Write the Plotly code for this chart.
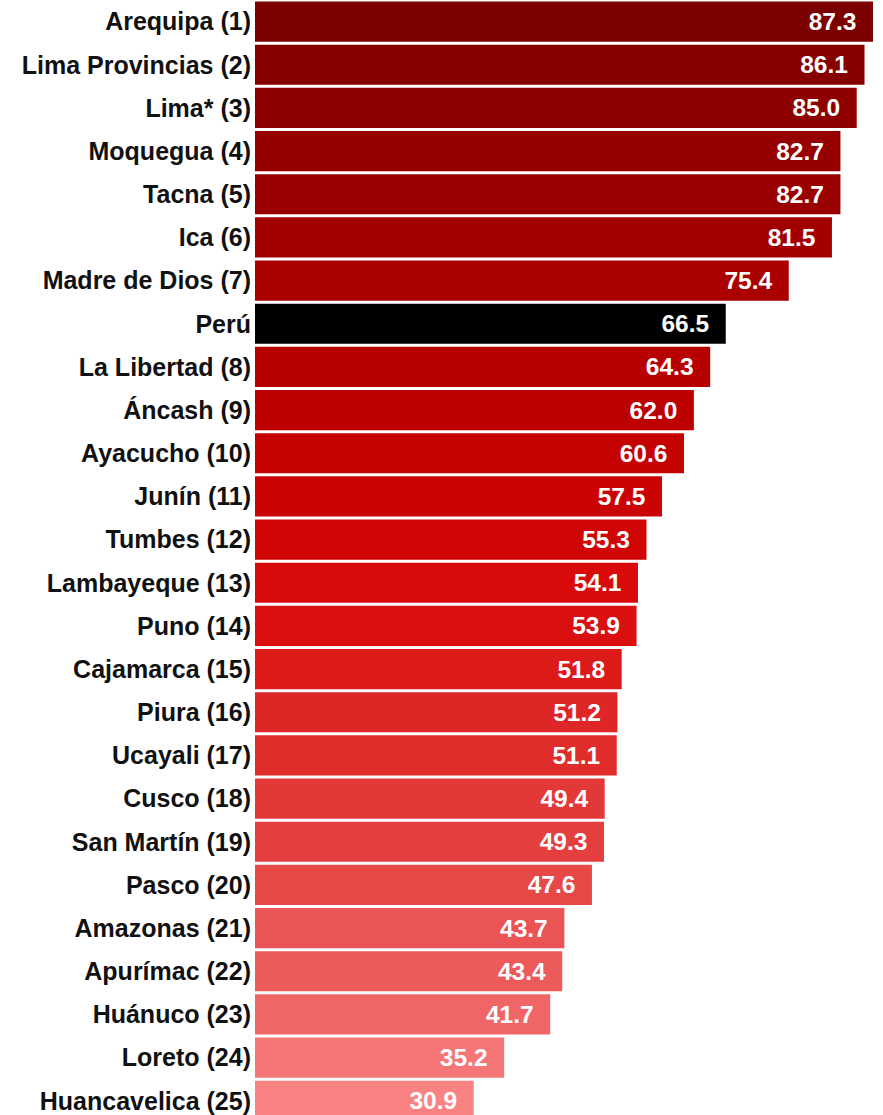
import plotly.graph_objects as go

# ── Data ─────────────────────────────────────────────────────────────────────
regions = [
    "Arequipa (1)", "Lima Provincias (2)", "Lima* (3)", "Moquegua (4)", "Tacna (5)",
    "Ica (6)", "Madre de Dios (7)", "Perú", "La Libertad (8)", "Áncash (9)",
    "Ayacucho (10)", "Junín (11)", "Tumbes (12)", "Lambayeque (13)", "Puno (14)",
    "Cajamarca (15)", "Piura (16)", "Ucayali (17)", "Cusco (18)", "San Martín (19)",
    "Pasco (20)", "Amazonas (21)", "Apurímac (22)", "Huánuco (23)", "Loreto (24)",
    "Huancavelica (25)",
]
values = [
    87.3, 86.1, 85.0, 82.7, 82.7,
    81.5, 75.4, 66.5, 64.3, 62.0,
    60.6, 57.5, 55.3, 54.1, 53.9,
    51.8, 51.2, 51.1, 49.4, 49.3,
    47.6, 43.7, 43.4, 41.7, 35.2,
    30.9,
]

# ── Bar colours (dark red → light pink, national total in black) ─────────────
bar_colors = [
    "#7d0000", "#860000", "#8e0000", "#960000", "#990000",
    "#a20000", "#ab0000", "#000000", "#b70000", "#bd0000",
    "#c40202", "#ca0404", "#d00606", "#d90a0a", "#da1010",
    "#dc1a1a", "#df2626", "#e12c2c", "#e33838", "#e53e3e",
    "#e74848", "#ea5454", "#ec5a5a", "#f06666", "#f47676",
    "#f98282",
]

FONT = "Liberation Sans, Arial, sans-serif"

fig = go.Figure(go.Bar(
    x=values,
    y=regions,
    orientation="h",
    marker_color=bar_colors,
    marker_line_width=0,
    text=[f"{v:.1f}  " for v in values],
    textposition="inside",
    insidetextanchor="end",
    textfont=dict(color="#ffffff", size=24.5, family=FONT, weight="bold"),
    hovertemplate="<b>%{y}</b><br>%{x:.1f}<extra></extra>",
))

fig.update_layout(
    width=883,
    height=1115,
    paper_bgcolor="#ffffff",
    plot_bgcolor="#ffffff",
    font=dict(family=FONT, color="#111111"),
    showlegend=False,
    bargap=0.07,
    uniformtext=dict(minsize=24, mode="show"),
    margin=dict(l=255, r=10, t=0, b=0, autoexpand=False),
    xaxis=dict(
        range=[0, 87.3],
        visible=False,
        showgrid=False,
        zeroline=False,
        automargin=False,
    ),
    yaxis=dict(
        range=[25.33, -0.5],  # last bar runs slightly off the bottom edge
        showgrid=False,
        zeroline=False,
        showline=False,
        ticks="",
        automargin=False,
        ticklabelstandoff=3,
        tickfont=dict(size=25, color="#111111", family=FONT, weight="bold"),
    ),
)

# drop the browser's default page margin so the figure sits flush at (0, 0)
fig.write_html(
    "out.html",
    config={"displayModeBar": False},
    post_script="document.body.style.margin='0';document.body.style.overflow='hidden';",
)
